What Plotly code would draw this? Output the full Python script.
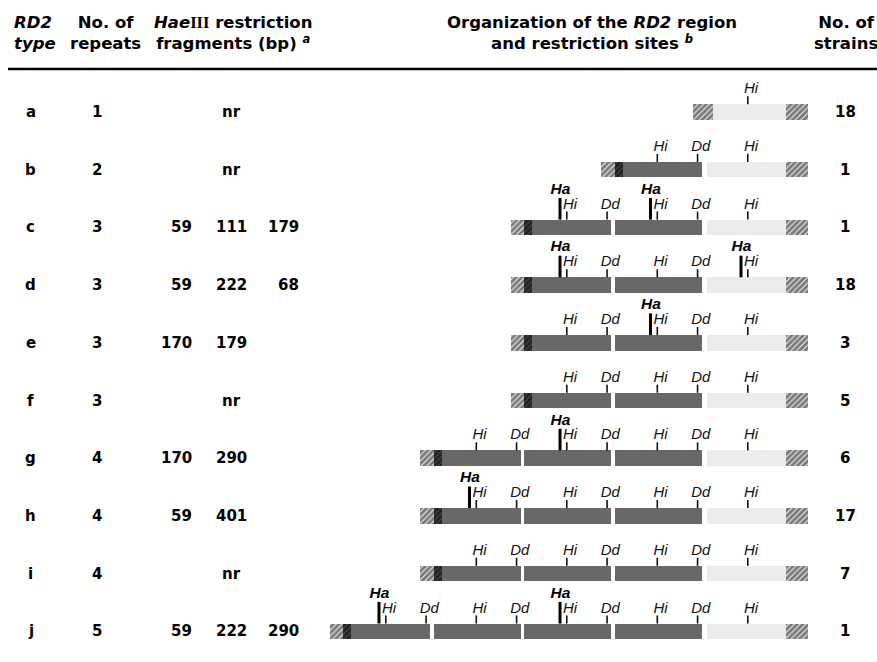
import plotly.graph_objects as go

# ---------------- data ----------------
rd2_types = ["a", "b", "c", "d", "e", "f", "g", "h", "i", "j"]
n_repeats = [1, 2, 3, 3, 3, 3, 4, 4, 4, 5]
frag_col1 = ["", "", "59", "59", "170", "", "170", "59", "", "59"]
frag_col2 = ["nr", "nr", "111", "222", "179", "nr", "290", "401", "nr", "222"]
frag_col3 = ["", "", "179", "68", "", "", "", "", "", "290"]
n_strains = [18, 1, 1, 18, 3, 5, 6, 17, 7, 1]
# repeats (0-based, left to right) that carry a HaeIII (Ha) site
ha_repeats = [[], [], [0, 1], [0, 2], [1], [], [1], [0], [], [0, 2]]
# position of each site inside one repeat unit (fraction of the unit)
site_offset = {"Ha": 0.42, "Hi": 0.495, "Dd": 0.94}

# ---------------- style ----------------
W, H = 877, 662
FONT = "DejaVu Sans"
SITE_FONT = "Liberation Sans"
DARK = "#686868"
LIGHT = "#ebebeb"
BAR_W = 0.27
GAP = 0.017
HALF = BAR_W / 2

def px(x):
    return x / W

fig = go.Figure()

dark_b, dark_w, dark_y = [], [], []
light_b, light_w, light_y = [], [], []
hw_b, hw_w, hw_y = [], [], []
hd_b, hd_w, hd_y = [], [], []
tick_x, tick_y = [], []
ha_x, ha_y = [], []
lab_x, lab_y, lab_t = [], [], []
halab_x, halab_y = [], []

for r, n in enumerate(n_repeats):
    first = -(n - 1)
    for k in range(n - 1):
        s = first + k
        dark_b.append(s + GAP)
        dark_w.append(1 - 2 * GAP)
        dark_y.append(r)
    light_b.append(0 + GAP * 2)
    light_w.append(0.91 - GAP * 2)
    light_y.append(r)
    if n > 1:
        hw_b.append(first - 0.13); hw_w.append(0.15); hw_y.append(r)
        hd_b.append(first + 0.02); hd_w.append(0.09); hd_y.append(r)
    else:
        hw_b.append(first - 0.12); hw_w.append(0.23); hw_y.append(r)
    hw_b.append(0.91); hw_w.append(0.24); hw_y.append(r)
    for k in range(n):
        s = first + k
        names = ["Hi"] if k == n - 1 else ["Hi", "Dd"]
        for nm in names:
            x = s + site_offset[nm]
            tick_x += [x, x, None]
            tick_y += [r - HALF, r - 0.275, None]
            lab_x.append(x + 0.035)
            lab_y.append(r - 0.39)
            lab_t.append("<i>%s</i>" % nm)
        if k in ha_repeats[r]:
            x = s + site_offset["Ha"]
            ha_x += [x, x, None]
            ha_y += [r - HALF, r - 0.51, None]
            halab_x.append(x + 0.005)
            halab_y.append(r - 0.65)

def bar(base, width, y, color, pattern=None):
    m = dict(color=color, line=dict(width=0))
    if pattern:
        m["pattern"] = pattern
    return go.Bar(orientation="h", base=base, x=width, y=y, width=BAR_W,
                  marker=m, hoverinfo="skip", showlegend=False)

fig.add_trace(bar(dark_b, dark_w, dark_y, DARK))
fig.add_trace(bar(light_b, light_w, light_y, LIGHT))
fig.add_trace(bar(hw_b, hw_w, hw_y, "white",
                  dict(shape="/", size=4, solidity=0.75, fgcolor="#000000", bgcolor="#f4f4f4")))
fig.add_trace(bar(hd_b, hd_w, hd_y, "#222222",
                  dict(shape="/", size=4, solidity=0.7, fgcolor="#000000", bgcolor="#444444")))

fig.add_trace(go.Scatter(x=tick_x, y=tick_y, mode="lines",
                         line=dict(color="#111111", width=1.6),
                         hoverinfo="skip", showlegend=False))
fig.add_trace(go.Scatter(x=ha_x, y=ha_y, mode="lines",
                         line=dict(color="#000000", width=3),
                         hoverinfo="skip", showlegend=False))
fig.add_trace(go.Scatter(x=lab_x, y=lab_y, mode="text", text=lab_t,
                         textposition="middle center",
                         textfont=dict(family=SITE_FONT, size=15, color="#111111"),
                         hoverinfo="skip", showlegend=False))
fig.add_trace(go.Scatter(x=halab_x, y=halab_y, mode="text",
                         text=["<b><i>Ha</i></b>"] * len(halab_x),
                         textposition="middle center",
                         textfont=dict(family=SITE_FONT, size=15.5, color="#000000"),
                         hoverinfo="skip", showlegend=False))

# ---------------- table text ----------------
ann = []
def t(x, y, text, anchor="center", size=15, yref="y"):
    ann.append(dict(x=px(x), y=y, xref="paper", yref=yref, text=text,
                    xanchor=anchor, yanchor="middle", showarrow=False,
                    font=dict(family=FONT, size=size, color="#000000")))

for r in range(len(rd2_types)):
    t(31, r, "<b>%s</b>" % rd2_types[r])
    t(97, r, "<b>%d</b>" % n_repeats[r])
    if frag_col1[r]:
        t(194, r, "<b>%s</b>" % frag_col1[r], anchor="right")
    if frag_col2[r]:
        t(231, r, "<b>%s</b>" % frag_col2[r])
    if frag_col3[r]:
        t(301, r, "<b>%s</b>" % frag_col3[r], anchor="right")
    t(845, r, "<b>%d</b>" % n_strains[r])

hy = 1 - 33 / H
hdr = dict(xref="paper", yref="paper", y=hy, yanchor="middle", showarrow=False,
           font=dict(family=FONT, size=16.5, color="#000000"))
ann.append(dict(hdr, x=px(12), xanchor="left", align="left",
                text="<b><i>RD2</i></b><br><b><i>type</i></b>"))
ann.append(dict(hdr, x=px(105), xanchor="center", align="center",
                text="<b>No. of</b><br><b>repeats</b>"))
ann.append(dict(hdr, x=px(233), xanchor="center", align="center",
                text="<b><i>Hae</i><span style=\"font-family:Liberation Serif\">III</span> restriction</b>"
                     "<br><b>fragments (bp) <sup><i>a</i></sup></b>"))
ann.append(dict(hdr, x=px(592), xanchor="center", align="center",
                text="<b>Organization of the <i>RD2</i> region</b><br><b>and restriction sites <sup><i>b</i></sup></b>"))
ann.append(dict(hdr, x=px(846), xanchor="center", align="center",
                text="<b>No. of</b><br><b>strains</b>"))

s_per = 57.7
r_top = -112 / s_per
r_bot = r_top + H / s_per

UNIT = 90.5
x_lo, x_hi = -5.0, 1.3
x0_px, x1_px = 703 + x_lo * UNIT, 703 + x_hi * UNIT

fig.update_layout(
    width=W, height=H, margin=dict(l=0, r=0, t=0, b=0),
    paper_bgcolor="white", plot_bgcolor="white",
    barmode="overlay", bargap=0,
    xaxis=dict(domain=[px(x0_px), px(x1_px)], range=[x_lo, x_hi], visible=False,
               fixedrange=True),
    yaxis=dict(domain=[0, 1], range=[r_bot, r_top], visible=False, fixedrange=True),
    annotations=ann,
    shapes=[dict(type="line", xref="paper", yref="paper", x0=px(8), x1=1,
                 y0=1 - 69 / H, y1=1 - 69 / H, line=dict(color="black", width=2.5))],
)

fig.write_html("out.html", config={"displayModeBar": False},
               post_script="document.body.style.margin='0px';document.body.style.padding='0px';")
